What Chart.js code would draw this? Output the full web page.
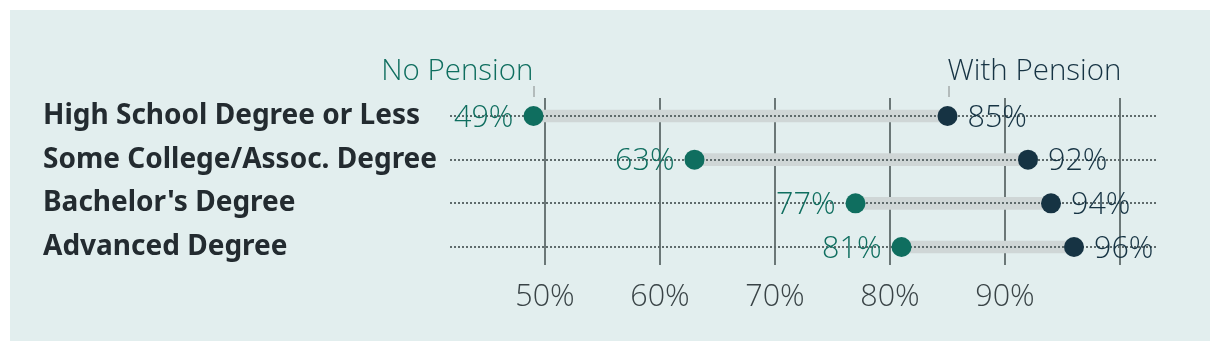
<!DOCTYPE html>
<html>
<head>
<meta charset="utf-8">
<script src="https://cdn.jsdelivr.net/npm/chart.js@4.4.1/dist/chart.umd.min.js"></script>
<style>
    html, body { margin: 0; padding: 0; background: #ffffff; }
    #panel { position: absolute; left: 10px; top: 10px; width: 1200px; height: 331px; background: #e2eeee; }
    #wrap  { position: absolute; left: 0; top: 0; width: 1220px; height: 352px; }
</style>
</head>
<body>
<div id="panel"></div>
<div id="wrap"><canvas id="chart" width="1220" height="352"></canvas></div>
<script>
// data
var categories  = [ 'High School Degree or Less', 'Some College/Assoc. Degree', "Bachelor's Degree", 'Advanced Degree' ];
var noPension   = [ 49, 63, 77, 81 ];
var withPension = [ 85, 92, 94, 96 ];
var tickValues  = [ 50, 60, 70, 80, 90, 100 ];
var tickLabels  = [ '50%', '60%', '70%', '80%', '90%', '' ];
var seriesNames = [ 'No Pension', 'With Pension' ];

var TEAL  = '#0f6e5f';
var NAVY  = '#163343';
var LIGHT = "'Open Sans', 'Noto Sans', sans-serif";
var BOLD  = "'Noto Sans', 'Open Sans', sans-serif";

/** dotted row lines, value labels and the series notes */
var dumbbell = {
    id: 'dumbbell',
    afterDatasetDraw: function( chart, args ) {
        if ( args.index !== 0 ) return;
        var ctx = chart.ctx, area = chart.chartArea, y = chart.scales.y;
        ctx.save();
        ctx.setLineDash( [ 2, 2 ] );
        ctx.lineWidth   = 2;
        ctx.strokeStyle = '#5f6b6c';
        categories.forEach( function( c, i ) {
            var py = Math.round( y.getPixelForValue( i ) );
            ctx.beginPath();
            ctx.moveTo( area.left, py );
            ctx.lineTo( area.right, py );
            ctx.stroke();
        });
        ctx.restore();
    },
    afterDatasetsDraw: function( chart ) {
        var ctx = chart.ctx;
        var low  = chart.getDatasetMeta( 1 ).data;
        var high = chart.getDatasetMeta( 2 ).data;
        ctx.save();
        ctx.font = '300 30.5px ' + LIGHT;
        ctx.textBaseline = 'middle';
        low.forEach( function( pt, i ) {
            ctx.fillStyle = TEAL;
            ctx.textAlign = 'right';
            ctx.fillText( noPension[ i ] + '%', pt.x - 20, pt.y + 2 );
        });
        high.forEach( function( pt, i ) {
            ctx.fillStyle = NAVY;
            ctx.textAlign = 'left';
            ctx.fillText( withPension[ i ] + '%', pt.x + 20, pt.y + 2 );
        });
        // notes above the first row
        var a = low[ 0 ], b = high[ 0 ];
        ctx.strokeStyle = '#b3bbbb';
        ctx.lineWidth   = 2;
        [ a, b ].forEach( function( pt ) {
            var x = Math.round( pt.x ) + 1;
            ctx.beginPath();
            ctx.moveTo( x, pt.y - 30 );
            ctx.lineTo( x, pt.y - 19 );
            ctx.stroke();
        });
        ctx.font = '300 29.5px ' + LIGHT;
        ctx.textBaseline = 'alphabetic';
        ctx.fillStyle = TEAL;
        ctx.textAlign = 'right';
        ctx.fillText( seriesNames[ 0 ], a.x, a.y - 36 );
        ctx.fillStyle = NAVY;
        ctx.textAlign = 'left';
        ctx.fillText( seriesNames[ 1 ], b.x, b.y - 36 );
        ctx.restore();
    }
};

new Chart( document.getElementById( 'chart' ), {
    type: 'bar',
    data: {
        datasets: [
            {
                type            : 'bar',
                indexAxis       : 'y',
                order           : 3,
                data            : categories.map( function( c, i ) { return { y: i, x: [ noPension[ i ], withPension[ i ] ] }; } ),
                backgroundColor : '#cfd6d6',
                barThickness    : 12,
                borderWidth     : 0
            },
            {
                type             : 'line',
                label            : seriesNames[ 0 ],
                order            : 1,
                data             : noPension.map( function( v, i ) { return { x: v, y: i }; } ),
                showLine         : false,
                pointRadius      : 10,
                pointBorderWidth : 0,
                pointBackgroundColor : TEAL
            },
            {
                type             : 'line',
                label            : seriesNames[ 1 ],
                order            : 2,
                data             : withPension.map( function( v, i ) { return { x: v, y: i }; } ),
                showLine         : false,
                pointRadius      : 10,
                pointBorderWidth : 0,
                pointBackgroundColor : NAVY
            }
        ]
    },
    options: {
        responsive       : false,
        animation        : false,
        devicePixelRatio : 1,
        layout  : { padding: { left: 43, right: 64, top: 98, bottom: 0 } },
        plugins : { legend: { display: false }, tooltip: { enabled: false } },
        scales  : {
            x: {
                type     : 'linear',
                position : 'bottom',
                offset   : false,
                min      : 41.74,
                max      : 103.13,
                afterBuildTicks: function( scale ) {
                    scale.ticks = tickValues.map( function( v ) { return { value: v }; } );
                },
                afterFit: function( scale ) { scale.height = 87; },
                grid   : { color: '#6b7777', lineWidth: 2, drawTicks: false, offset: false },
                border : { display: false },
                ticks  : {
                    padding : 14,
                    color   : '#394346',
                    font    : { family: LIGHT, size: 30.5, weight: '300' },
                    callback: function( v ) { return tickLabels[ tickValues.indexOf( v ) ]; }
                }
            },
            y: {
                type    : 'linear',
                reverse : true,
                offset  : false,
                min     : -0.412,
                max     : 3.412,
                afterBuildTicks: function( scale ) {
                    scale.ticks = categories.map( function( c, i ) { return { value: i }; } );
                },
                afterFit: function( scale ) { scale.width = 407; },
                grid   : { display: false, offset: false },
                border : { display: false },
                ticks  : {
                    crossAlign : 'far',
                    padding    : 0,
                    color      : '#232b30',
                    font       : { family: BOLD, size: 28, weight: 'bold' },
                    callback   : function( v ) { return categories[ v ]; }
                }
            }
        }
    },
    plugins: [ dumbbell ]
});
</script>
</body>
</html>
